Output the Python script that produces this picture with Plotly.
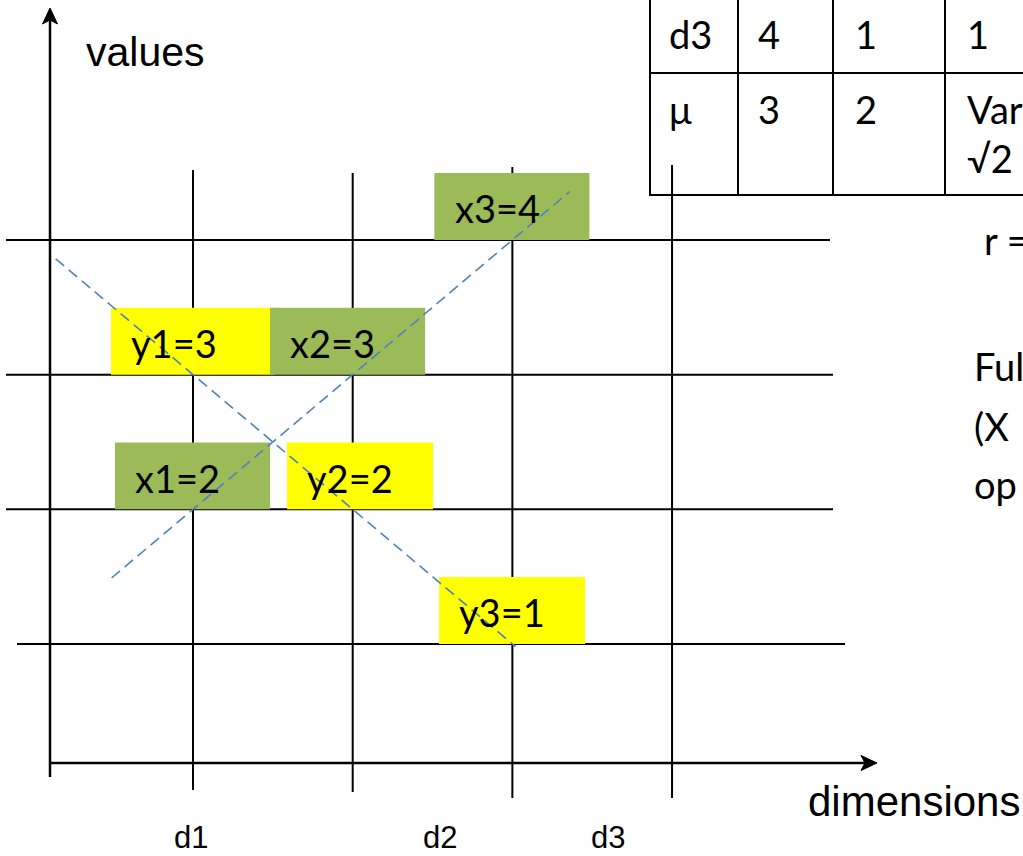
import numpy as np
import plotly.graph_objects as go

# ---------------- data ----------------
dim_labels = ["d1", "d2", "d3"]
dim_index = [1, 2, 3]
x_values = [2, 3, 4]
y_values = [3, 2, 1]
grid_dims = [1, 2, 3, 4]
grid_values = [1, 2, 3, 4]
table_row_d3 = ["d3", "4", "1", "1"]
table_row_mu = ["μ", "3", "2", "Var<br>√2"]
side_texts = ["r =", "Ful", "(X", "op"]

# ---------------- style / layout helpers ----------------
W, H = 1023, 856
def px(x):
    return x / W
def py(y):
    return 1 - y / H

X_RANGE = [-0.2088, 6.198]
Y_RANGE = [-0.5743, 5.782]

GREEN = "#9BBB59"
YELLOW = "#FFFF00"
BLUE = "#4F81BD"
CAL = "Lato, 'Noto Sans', sans-serif"
ARIAL = "'Liberation Sans', Arial, sans-serif"

x_box_shift = [-0.003, -0.032, -0.003]
x_box_width = [0.971, 0.971, 0.971]
y_box_shift = [-0.003, 0.046, -0.002]
y_box_width = [1.021, 0.914, 0.914]
BOX_H = 0.497

shapes = []
annotations = []

def box(d, v, shift, width, color):
    x0 = d + shift - width / 2
    shapes.append(dict(type="rect", xref="x", yref="y", x0=x0, x1=x0 + width,
                       y0=v, y1=v + BOX_H, fillcolor=color, line=dict(width=0),
                       layer="below"))
    return x0

box_specs = []
for i, d in enumerate(dim_index):
    box_specs.append(("x", i, d, x_values[i], x_box_shift[i], x_box_width[i], GREEN))
    box_specs.append(("y", i, d, y_values[i], y_box_shift[i], y_box_width[i], YELLOW))

# boxes that lie beneath the grid lines (x1, y2)
under = {("x", 0), ("y", 1)}

def add_box_and_label(spec):
    name, i, d, v, sh, wd, col = spec
    x0 = box(d, v, sh, wd, col)
    annotations.append(dict(xref="x", yref="y", x=x0 + 0.115, y=v + 0.235,
                            text=f"{name}{i+1}={v}", showarrow=False,
                            xanchor="left", yanchor="middle",
                            font=dict(family=CAL, size=38, color="black")))

for s in box_specs:
    if (s[0], s[1]) in under:
        add_box_and_label(s)

# grid lines (vertical, at dimension positions)
v_top = [170, 173, 167, 165]
v_bot = [790, 792, 798, 798]
for d, t, b in zip(grid_dims, v_top, v_bot):
    shapes.append(dict(type="line", xref="x", yref="paper", x0=d, x1=d,
                       y0=py(b), y1=py(t), line=dict(color="black", width=2),
                       layer="below"))
# grid lines (horizontal, at value levels)
h_left = {4: 6, 3: 6, 2: 6, 1: 17}
h_right = {4: 830, 3: 833, 2: 833, 1: 845}
for v in grid_values:
    shapes.append(dict(type="line", xref="paper", yref="y", x0=px(h_left[v]),
                       x1=px(h_right[v]), y0=v, y1=v,
                       line=dict(color="black", width=2), layer="below"))

for s in box_specs:
    if (s[0], s[1]) not in under:
        add_box_and_label(s)

# axes with arrow heads
shapes.append(dict(type="line", xref="paper", yref="paper", x0=px(50), x1=px(50),
                   y0=py(777), y1=py(18), line=dict(color="black", width=2.5),
                   layer="below"))
shapes.append(dict(type="path", xref="paper", yref="paper",
                   path=f"M {px(50)},{py(8)} L {px(57.5)},{py(24)} L {px(50)},{py(20)} L {px(42.5)},{py(24)} Z",
                   fillcolor="black", line=dict(color="black", width=1), layer="below"))
shapes.append(dict(type="line", xref="paper", yref="paper", x0=px(50), x1=px(866),
                   y0=py(763), y1=py(763), line=dict(color="black", width=2.5),
                   layer="below"))
shapes.append(dict(type="path", xref="paper", yref="paper",
                   path=f"M {px(877)},{py(763)} L {px(861)},{py(755.5)} L {px(865)},{py(763)} L {px(861)},{py(770.5)} Z",
                   fillcolor="black", line=dict(color="black", width=1), layer="below"))

# table (top right, partly cut off)
for xv in [650, 738, 833, 945]:
    shapes.append(dict(type="line", xref="paper", yref="paper", x0=px(xv), x1=px(xv),
                       y0=py(196), y1=py(0), line=dict(color="black", width=2),
                       layer="below"))
for yv in [73, 195]:
    shapes.append(dict(type="line", xref="paper", yref="paper", x0=px(649), x1=px(1023),
                       y0=py(yv), y1=py(yv), line=dict(color="black", width=2),
                       layer="below"))
col_x = [667, 756, 853, 965]
for txt, cx in zip(table_row_d3, col_x):
    annotations.append(dict(xref="paper", yref="paper", x=px(cx), y=py(34), text=txt,
                            showarrow=False, xanchor="left", yanchor="middle",
                            font=dict(family=CAL, size=38, color="black")))
for txt, cx in zip(table_row_mu, col_x):
    annotations.append(dict(xref="paper", yref="paper", x=px(cx), y=py(84), text=txt,
                            showarrow=False, xanchor="left", yanchor="top",
                            align="left",
                            font=dict(family=CAL, size=38, color="black")))

# side texts (cut off at the right edge, as in the source slide)
side_pos = [(982, 240), (972, 366), (972, 426), (972, 484)]
for txt, (sx, sy) in zip(side_texts, side_pos):
    annotations.append(dict(xref="paper", yref="paper", x=px(sx), y=py(sy), text=txt,
                            showarrow=False, xanchor="left", yanchor="middle",
                            font=dict(family=CAL, size=38, color="black")))

# axis titles
annotations.append(dict(xref="paper", yref="paper", x=px(84), y=py(52), text="values",
                        showarrow=False, xanchor="left", yanchor="middle",
                        font=dict(family=ARIAL, size=41, color="black")))
annotations.append(dict(xref="paper", yref="paper", x=px(806), y=py(801), text="dimensions",
                        showarrow=False, xanchor="left", yanchor="middle",
                        font=dict(family=ARIAL, size=42, color="black")))
dim_label_x = [172, 421, 589]
for lbl, lx in zip(dim_labels, dim_label_x):
    annotations.append(dict(xref="paper", yref="paper", x=px(lx), y=py(837), text=lbl,
                            showarrow=False, xanchor="left", yanchor="middle",
                            font=dict(family=ARIAL, size=31, color="black")))

# dashed trend lines through the data points
fig = go.Figure()
xs = np.array(dim_index, dtype=float)
for vals, (a, b) in [(x_values, (0.49, 3.36)), (y_values, (0.14, 3.02))]:
    k, c = np.polyfit(xs, np.array(vals, dtype=float), 1)
    lx = np.array([a, b])
    fig.add_trace(go.Scatter(x=lx, y=k * lx + c, mode="lines",
                             line=dict(color=BLUE, width=1.6, dash="11px,6px"),
                             hoverinfo="skip"))

fig.update_layout(
    width=W, height=H, margin=dict(l=0, r=0, t=0, b=0),
    paper_bgcolor="white", plot_bgcolor="white", showlegend=False,
    xaxis=dict(range=X_RANGE, visible=False, fixedrange=True),
    yaxis=dict(range=Y_RANGE, visible=False, fixedrange=True),
    shapes=shapes, annotations=annotations,
)
fig.write_html("out.html", config={"displayModeBar": False},
               post_script="document.body.style.margin='0';")
